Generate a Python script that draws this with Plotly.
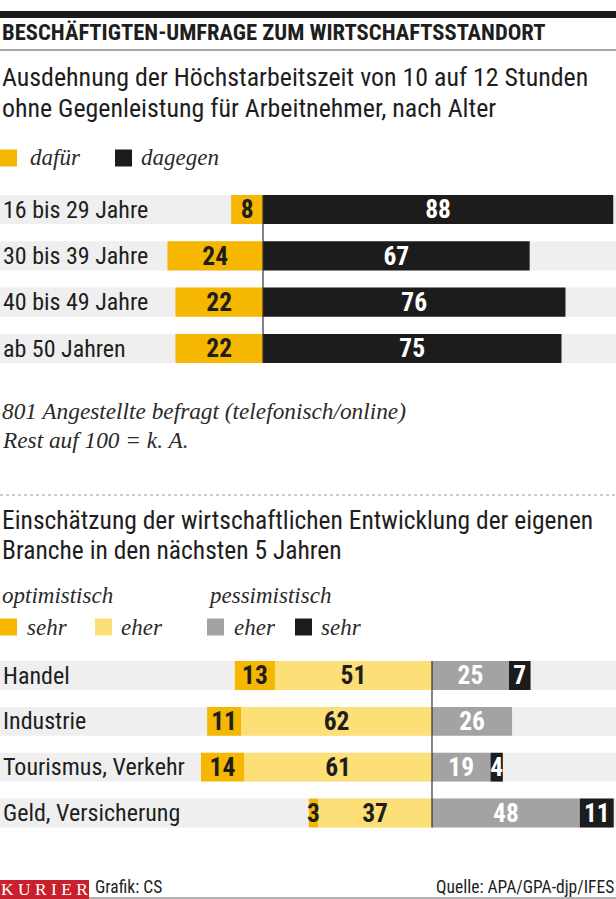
import plotly.graph_objects as go

W, H = 616, 899

# ---------------- data ----------------
age_groups = ["16 bis 29 Jahre", "30 bis 39 Jahre", "40 bis 49 Jahre", "ab 50 Jahren"]
dafuer = [8, 24, 22, 22]
dagegen = [88, 67, 76, 75]

branchen = ["Handel", "Industrie", "Tourismus, Verkehr", "Geld, Versicherung"]
opt_sehr = [13, 11, 14, 3]
opt_eher = [51, 62, 61, 37]
pes_eher = [25, 26, 19, 48]
pes_sehr = [7, None, 4, 11]

# ---------------- styles ----------------
YEL = "#F6B700"
LYEL = "#FDDF78"
GRAY = "#A3A3A3"
BLACK = "#1C1C1C"
BAND = "#EFEFEF"
TXT = "#1E1E1E"
SANS = "Roboto Condensed, Liberation Sans, sans-serif"
SERIF = "Liberation Serif, DejaVu Serif, serif"


def px(x):
    return x / W


def py(y):
    return 1 - y / H


def neg(v):
    return [None if a is None else -a for a in v]


def lab(v):
    return ["" if a is None else str(a) for a in v]


fig = go.Figure()

top_c, top_s = 263, 3.98
bot_c, bot_s = 432, 3.08

top_rows = (209.5, 348.5)
bot_rows = (675.5, 813)


def ydomain(rows, n):
    pitch = (rows[1] - rows[0]) / (n - 1)
    top = rows[0] - pitch / 2
    bot = rows[1] + pitch / 2
    return [py(bot), py(top)], pitch


ydom1, pitch1 = ydomain(top_rows, 4)
ydom2, pitch2 = ydomain(bot_rows, 4)

bw = 0.63
bar_font = dict(family=SANS, size=25.5, weight="bold")


def bar(y, x, color, labels, tcolor, xa, ya):
    return go.Bar(y=y, x=x, orientation="h", marker=dict(color=color, line_width=0),
                  width=bw, text=labels, textposition="inside", textangle=0,
                  insidetextanchor="middle", textfont=dict(color=tcolor, **bar_font),
                  constraintext="none", cliponaxis=False,
                  xaxis=xa, yaxis=ya, showlegend=False, hoverinfo="skip")


fig.add_trace(bar(age_groups, neg(dafuer), YEL, lab(dafuer), TXT, "x", "y"))
fig.add_trace(bar(age_groups, dagegen, BLACK, lab(dagegen), "white", "x", "y"))

fig.add_trace(bar(branchen, neg(opt_eher), LYEL, lab(opt_eher), TXT, "x2", "y2"))
fig.add_trace(bar(branchen, neg(opt_sehr), YEL, lab(opt_sehr), TXT, "x2", "y2"))
fig.add_trace(bar(branchen, pes_eher, GRAY, lab(pes_eher), "white", "x2", "y2"))
fig.add_trace(bar(branchen, pes_sehr, BLACK, lab(pes_sehr), "white", "x2", "y2"))

shapes = []
annotations = []

for ref, cats in (("y", age_groups), ("y2", branchen)):
    for i, _ in enumerate(cats):
        shapes.append(dict(type="rect", xref="paper", yref=ref, x0=0, x1=1,
                           y0=i - bw / 2, y1=i + bw / 2, fillcolor=BAND,
                           line_width=0, layer="below"))

shapes.append(dict(type="line", xref="x", yref="y", x0=0, x1=0,
                   y0=-bw / 2, y1=len(age_groups) - 1 + bw / 2,
                   line=dict(color="#333", width=1.2), layer="above"))
shapes.append(dict(type="line", xref="x2", yref="y2", x0=0, x1=0,
                   y0=-bw / 2, y1=len(branchen) - 1 + bw / 2,
                   line=dict(color="#333", width=1.2), layer="above"))


def text(x, y, s, size, family=SANS, color=TXT, xanchor="left", weight="normal", style="normal"):
    annotations.append(dict(x=px(x), y=py(y), xref="paper", yref="paper", text=s,
                            showarrow=False, xanchor=xanchor, yanchor="middle",
                            borderpad=0,
                            font=dict(family=family, size=size, color=color,
                                      weight=weight, style=style)))


def square(x, y, color, s=17):
    shapes.append(dict(type="rect", xref="paper", yref="paper",
                       x0=px(x), x1=px(x + s), y0=py(y + s / 2), y1=py(y - s / 2),
                       fillcolor=color, line_width=0))


SER_TXT = "#2A2A2A"

# header
shapes.append(dict(type="rect", xref="paper", yref="paper", x0=0, x1=1,
                   y0=py(18), y1=py(11), fillcolor="#1A1A1A", line_width=0))
text(1, 33, "BESCHÄFTIGTEN-UMFRAGE ZUM WIRTSCHAFTSSTANDORT", 22.6, weight="bold")
shapes.append(dict(type="line", xref="paper", yref="paper", x0=0, x1=1,
                   y0=py(50), y1=py(50), line=dict(color="#8A8A8A", width=1.5)))

text(1, 77, "Ausdehnung der Höchstarbeitszeit von 10 auf 12 Stunden", 25.9)
text(1, 108, "ohne Gegenleistung für Arbeitnehmer, nach Alter", 25.9)

# legend top
square(0, 158, YEL)
text(29, 158, "dafür", 23, family=SERIF, style="italic", color=SER_TXT)
square(115, 158, BLACK)
text(140, 158, "dagegen", 23, family=SERIF, style="italic", color=SER_TXT)

for i, g in enumerate(age_groups):
    text(2, top_rows[0] + i * pitch1, g, 24)

# notes
text(1, 411, "801 Angestellte befragt (telefonisch/online)", 23.3, family=SERIF, style="italic", color=SER_TXT)
text(1, 440, "Rest auf 100 = k. A.", 23.3, family=SERIF, style="italic", color=SER_TXT)

shapes.append(dict(type="line", xref="paper", yref="paper", x0=0, x1=1,
                   y0=py(495), y1=py(495), line=dict(color="#9A9A9A", width=1, dash="dot")))

text(1, 520, "Einschätzung der wirtschaftlichen Entwicklung der eigenen", 25.5)
text(1, 550, "Branche in den nächsten 5 Jahren", 25.5)

# legend bottom
text(1, 595, "optimistisch", 23, family=SERIF, style="italic", color=SER_TXT)
text(207, 595, "pessimistisch", 23, family=SERIF, style="italic", color=SER_TXT)
square(0, 627, YEL)
text(26, 627, "sehr", 23, family=SERIF, style="italic", color=SER_TXT)
square(95, 627, LYEL)
text(120, 627, "eher", 23, family=SERIF, style="italic", color=SER_TXT)
square(207, 627, GRAY)
text(233, 627, "eher", 23, family=SERIF, style="italic", color=SER_TXT)
square(295, 627, BLACK)
text(320, 627, "sehr", 23, family=SERIF, style="italic", color=SER_TXT)

for i, b in enumerate(branchen):
    text(2, bot_rows[0] + i * pitch2, b, 24)

# footer
shapes.append(dict(type="rect", xref="paper", yref="paper", x0=0, x1=px(89),
                   y0=0, y1=py(880), fillcolor="#C8202C", line_width=0))
text(44.5, 888.5, "K U R I E R", 17.5, family=SERIF, color="white", xanchor="center")
shapes.append(dict(type="line", xref="paper", yref="paper", x0=px(89), x1=1,
                   y0=py(898), y1=py(898), line=dict(color="#9A9A9A", width=1.5)))
text(94, 887, "Grafik: CS", 17.5)
text(615, 887, "Quelle: APA/GPA-djp/IFES", 17.5, xanchor="right")

axis_common = dict(showgrid=False, zeroline=False, showticklabels=False, ticks="",
                   showline=False, fixedrange=True)

fig.update_layout(
    width=W, height=H,
    margin=dict(l=0, r=0, t=0, b=0),
    paper_bgcolor="white", plot_bgcolor="rgba(0,0,0,0)",
    barmode="relative",
    uniformtext=dict(minsize=25.5, mode="show"),
    xaxis=dict(domain=[0, 1], range=[-top_c / top_s, (W - top_c) / top_s],
               anchor="y", **axis_common),
    yaxis=dict(domain=ydom1, autorange=False, range=[len(age_groups) - 0.5, -0.5],
               anchor="x", type="category", **axis_common),
    xaxis2=dict(domain=[0, 1], range=[-bot_c / bot_s, (W - bot_c) / bot_s],
                anchor="y2", **axis_common),
    yaxis2=dict(domain=ydom2, autorange=False, range=[len(branchen) - 0.5, -0.5],
                anchor="x2", type="category", **axis_common),
    shapes=shapes,
    annotations=annotations,
)

fig.write_html("out.html", config={"displayModeBar": False, "staticPlot": True},
               post_script="document.body.style.margin='0';document.body.style.overflow='hidden';")
